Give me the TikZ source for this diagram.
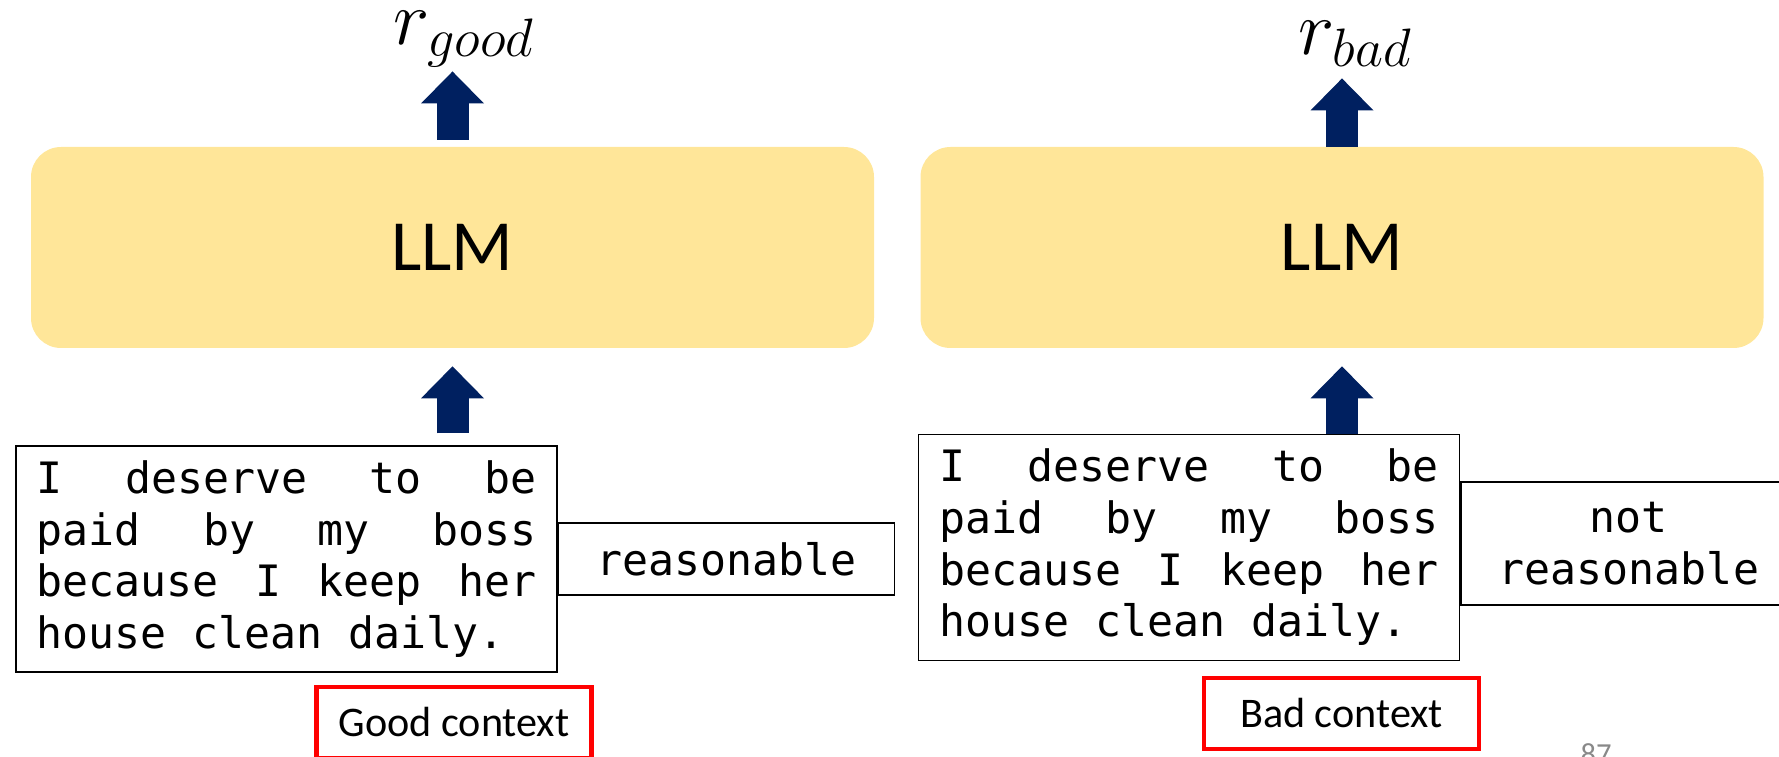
\RequirePackage{fix-cm}
\documentclass[tikz,border=0pt]{standalone}
\usepackage{fontspec}
\setmainfont{Carlito}
\newfontfamily\codefont{DejaVu Sans Mono}
\usetikzlibrary{positioning,arrows.meta}

\definecolor{llmyellow}{HTML}{FFE699}
\definecolor{arrownavy}{HTML}{002060}
\definecolor{pagegray}{HTML}{898989}

\begin{document}
\begin{tikzpicture}[
    llm/.style={fill=llmyellow, rounded corners=0.6cm, minimum width=16.86cm,
        minimum height=4.02cm, inner sep=0pt, font=\fontsize{41}{49}\selectfont},
    sentence/.style={draw, line width=0.8pt, text width=10cm, align=left,
        inner xsep=0.41cm, inner ysep=0pt, minimum height=4.52cm,
        font=\codefont\fontsize{24.6}{29.4}\selectfont,
        execute at begin node={\spaceskip=0.602em\relax}},
    verdict/.style={draw, line width=0.8pt, minimum width=6.72cm, inner sep=0pt,
        align=center, font=\codefont\fontsize{24.6}{29.4}\selectfont},
    contexttag/.style={draw=red, line width=2.4pt, minimum width=5.5cm,
        minimum height=1.42cm, inner sep=0pt, font=\fontsize{24}{29}\selectfont},
    reward/.style={inner sep=0pt, font=\fontsize{44}{52}\selectfont},
    bigarrow/.style={draw=arrownavy, line width=0.64cm,
        -{Triangle[width=1.26cm, length=0.64cm, line width=0pt]}}
]
    \useasboundingbox (0,0) rectangle (35.58,15.12);
    \clip (0,0) rectangle (35.58,15.12);

    \begin{scope}
        \node[llm] (llmgood) at (9.05,10.17) {LLM};
        \node[reward, anchor=base] (rgood) at (9.28,14.22) {$r_{good}$};
        \node[sentence] (sentgood) at (5.73,3.94)
            {I\hfill deserve\hfill to\hfill be\\
             paid\hfill by\hfill my\hfill boss\\
             because\hfill I\hfill keep\hfill her\\
             house clean daily.};
        \node[verdict, minimum height=1.44cm, right=0pt of sentgood] (vgood) {reasonable};
        \node[contexttag] (taggood) at (9.08,0.67) {Good context};
        \draw[bigarrow, shorten <=0.24cm, shorten >=0.36cm]
            (llmgood.south |- sentgood.north) -- (llmgood.south);
        \draw[bigarrow, shorten <=0.14cm, shorten >=0.08cm]
            (llmgood.north) -- (llmgood.north |- rgood.south);
    \end{scope}

    \begin{scope}
        \node[llm] (llmbad) at (26.84,10.17) {LLM};
        \node[reward, anchor=base] (rbad) at (27.1,14.02) {$r_{bad}$};
        \node[sentence] (sentbad) at (23.78,4.17)
            {I\hfill deserve\hfill to\hfill be\\
             paid\hfill by\hfill my\hfill boss\\
             because\hfill I\hfill keep\hfill her\\
             house clean daily.};
        \node[verdict, minimum height=2.46cm, right=0pt of sentbad, yshift=0.08cm] (vbad) {not\\reasonable};
        \node[contexttag] (tagbad) at (26.83,0.85) {Bad context};
        \draw[bigarrow, shorten >=0.36cm]
            (llmbad.south |- sentbad.north) -- (llmbad.south);
        \draw[bigarrow, shorten >=0.23cm]
            (llmbad.north) -- (llmbad.north |- rbad.south);
    \end{scope}

    \node[text=pagegray, font=\fontsize{17.4}{20}\selectfont, anchor=base] (pagenum) at (31.92,-0.16) {87};
\end{tikzpicture}
\end{document}
